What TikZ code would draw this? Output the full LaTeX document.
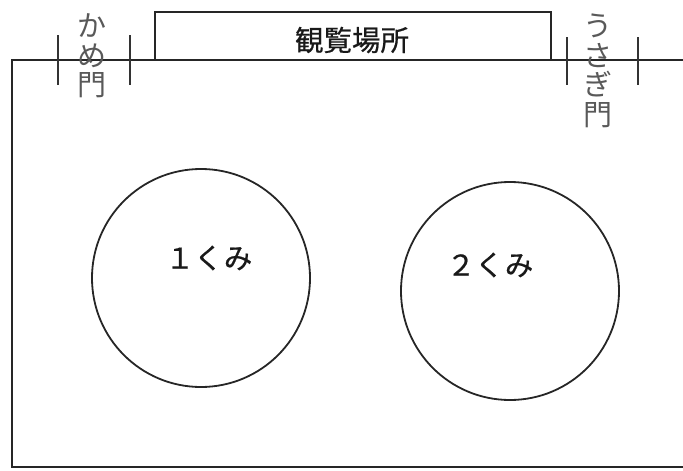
\documentclass[tikz,border=0pt]{standalone}
\usepackage{fontspec}
\newfontfamily\jp{Noto Sans CJK JP}
\newfontfamily\jpm[FakeBold=0.6]{Noto Sans CJK JP}
\begin{document}
\begin{tikzpicture}[x=1pt,y=-1pt,
  wall/.style={line width=2pt, draw=black!85},
  tick/.style={line width=1.8pt, draw=black!80},
  ring/.style={circle, draw=black!85, line width=1.8pt, minimum size=218pt, inner sep=0pt},
  big/.style={font=\jpm\fontsize{28.5}{30}\selectfont, text=black!90, inner sep=0pt},
  gate/.style={font=\jp\fontsize{29}{29.5}\selectfont, text=black!65, align=center, inner sep=0pt}]
\useasboundingbox (0,0) rectangle (683,471);
% site outline
\draw[wall] (683,60) -- (12,60) -- (12,467) -- (683,467);
% viewing area
\draw[wall] (155,60) -- (155,12) -- (551,12) -- (551,60);
\node[big] (view) at (352,40) {観覧場所};
% kame gate
\draw[tick] (58,35) -- (58,85);
\draw[tick] (130,35) -- (130,85);
\node[gate] (kame) at (92,56) {か\\め\\門};
% usagi gate
\draw[tick] (567,37) -- (567,85);
\draw[tick] (638,37) -- (638,85);
\node[gate] (usagi) at (598,71) {う\\さ\\ぎ\\門};
% classes
\node[ring] (c1) at (201,278) {};
\node[ring] (c2) at (510,291) {};
\node[big] (l1) at (209,258) {１くみ};
\node[big] (l2) at (490,265) {２くみ};
\end{tikzpicture}
\end{document}
